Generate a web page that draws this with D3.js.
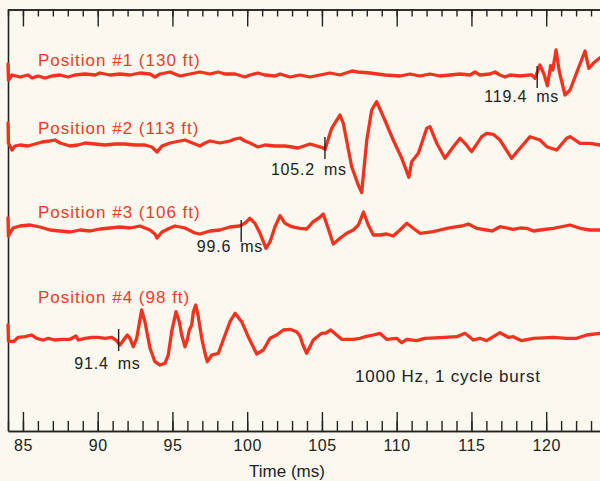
<!DOCTYPE html>
<html>
<head>
<meta charset="utf-8">
<script src="https://cdn.jsdelivr.net/npm/d3@7/dist/d3.min.js"></script>
<style>
  html, body { margin: 0; padding: 0; background: #fbf8ef; }
  svg { display: block; }
  text { font-family: "Liberation Sans", Arial, Helvetica, sans-serif; }
</style>
</head>
<body>
<svg id="chart" width="600" height="481"></svg>
<script>
// ---- data ----------------------------------------------------------
const timeDomain = [84, 123.6];          // ms
const majorTicks = [85, 90, 95, 100, 105, 110, 115, 120];
const minorTicks = d3.range(84, 124, 1);
const positionNames = ["Position #1 (130 ft)", "Position #2 (113 ft)", "Position #3 (106 ft)", "Position #4 (98 ft)"];
const arrivalTimes = [119.4, 105.2, 99.6, 91.4];   // ms
const burstNote = "1000 Hz, 1 cycle burst";
const axisTitle = "Time (ms)";

// received waveforms: [time ms, relative amplitude]
const trace1 = [
  [84.0,1.1],[84.03,-0.5],[84.27,0],[84.8,-0.2],[85.34,0],[85.61,-0.3],[86.01,-0.1],[86.48,-0.3],[86.94,-0.1],
  [87.48,0],[88.01,-0.2],[88.48,0],[89.15,0.1],[89.82,0],[90.15,0.2],[90.82,0],[91.49,0.1],[92.16,0],[92.83,0.2],
  [93.5,0.1],[93.83,-0.2],[94.17,0.1],[94.84,0.3],[95.17,0.1],[95.51,-0.1],[96.17,0.1],[96.84,0.3],[97.51,0.1],
  [98.05,0.3],[98.52,0.1],[99.19,0.1],[99.85,-0.2],[100.19,0],[100.72,0.2],[101.19,0],[101.86,-0.1],[102.2,0.1],
  [102.86,-0.2],[103.53,0],[104.2,-0.2],[104.87,0],[105.54,0.2],[106.21,0],[107.01,0.4],[107.41,0.3],[108.22,0.2],
  [109.22,0],[110.22,-0.1],[110.89,0.1],[111.56,-0.1],[112.23,0.1],[112.9,-0.1],[113.57,0],[114.24,0.1],[114.91,0],
  [115.24,0.3],[115.57,0],[116.24,0.1],[116.58,0.3],[116.91,0],[117.25,-0.2],[117.58,0],[118.25,-0.1],[118.92,0],
  [119.05,0],[119.25,-0.33],[119.58,1.0],[119.86,0.07],[120.08,-1.07],[120.3,0.93],[120.44,0.5],[120.66,2.5],
  [120.88,0.33],[121.26,-2.0],[121.6,-1.5],[122.08,0.4],[122.6,2.4],[122.85,0.67],[123.15,1.17],[123.6,1.73]
];
const trace2 = [
  [84.0,2.3],[84.03,0.3],[84.27,-0.4],[84.47,0],[84.8,0.1],[85.34,0],[85.81,0.2],[86.27,0.4],[86.81,0.5],[87.14,0.6],
  [87.48,0.3],[88.15,0],[88.68,0.1],[89.15,0.3],[89.82,0.2],[90.49,0.1],[91.16,0.2],[91.83,0.2],[92.5,0.1],[93.16,0.1],
  [93.63,-0.1],[93.97,-0.6],[94.3,0],[94.84,0.3],[95.17,0.4],[95.84,0.6],[96.51,0.2],[96.84,0],[97.18,0.3],[97.51,0.5],
  [98.18,0.3],[98.85,0.5],[99.19,0.7],[99.52,0.8],[99.85,0.5],[100.19,0.3],[100.72,-0.1],[101.19,0.1],[101.86,0],
  [102.53,0],[103.0,-0.1],[103.4,-0.2],[104.2,0.2],[104.98,-0.13],[105.21,-0.33],[105.65,1.77],[106.21,3.1],
  [106.43,2.27],[106.99,-2.07],[107.43,-3.9],[107.66,-4.65],[108.0,0.6],[108.33,3.6],[108.66,4.43],[109.11,2.93],
  [109.77,0.6],[110.34,-1.23],[110.82,-3.13],[111.0,-1.57],[111.45,-0.73],[112.01,1.77],[112.23,1.93],[112.68,0.27],
  [113.23,-1.23],[113.79,-0.07],[114.24,0.77],[114.57,0.27],[115.02,-0.57],[115.69,0.93],[116.02,1.27],[116.46,1.17],
  [116.91,0.6],[117.69,-1.23],[118.25,-0.23],[118.92,0.93],[119.59,0.6],[120.04,-0.07],[120.7,-0.4],[121.37,0.77],
  [121.6,0.93],[122.27,0.27],[122.94,0.27],[123.6,0.1]
];
const trace3 = [
  [84.0,1.1],[84.03,-0.7],[84.33,0.1],[84.8,0.3],[85.47,0.4],[86.14,0.2],[86.81,-0.1],[87.48,-0.2],[88.15,-0.3],
  [88.82,-0.1],[89.49,-0.2],[90.15,0],[90.82,0.1],[91.49,0.2],[92.16,0.1],[92.83,0.3],[93.5,-0.1],[93.83,-0.5],
  [93.97,-0.9],[94.3,-0.3],[94.84,0.1],[95.17,0.3],[95.84,0.1],[96.51,-0.4],[96.84,-0.5],[97.51,-0.2],[98.18,-0.1],
  [98.85,0.2],[99.47,0.3],[99.85,0.57],[100.19,1.07],[100.52,0.57],[100.86,-0.43],[101.26,-1.93],[101.53,-1.27],
  [101.86,0.23],[102.2,1.33],[102.53,0.57],[102.98,0.23],[103.53,0.07],[103.98,0],[104.42,0.73],[104.8,1.1],
  [105.09,1.5],[105.41,0.1],[105.76,-1.5],[106.21,-0.93],[106.66,-0.43],[107.1,-0.1],[107.44,0.4],[107.78,1.7],
  [108.1,0.4],[108.44,-0.6],[108.88,-0.6],[109.33,-0.5],[109.77,-0.7],[110.22,-0.1],[110.67,0.57],[111.11,0.07],
  [111.56,-0.43],[112.45,-0.27],[112.9,-0.1],[113.35,0.07],[114.02,0.23],[114.37,0.3],[114.79,0.5],[115.35,0.07],
  [116.02,-0.1],[116.38,-0.2],[116.91,0.23],[117.8,-0.03],[118.25,0.1],[118.7,0.07],[119.14,-0.2],[119.59,-0.1],
  [120.48,0.07],[120.92,0.2],[121.6,0.4],[122.27,0.07],[122.94,-0.1],[123.6,-0.1]
];
const trace4 = [
  [84.0,1.3],[84.03,-0.3],[84.35,-0.37],[84.69,0.07],[85.14,0.13],[85.59,0.3],[85.92,-0.03],[86.36,-0.2],[86.7,-0.03],
  [87.14,-0.2],[87.59,-0.13],[88.15,-0.13],[88.55,0.2],[88.7,-0.2],[89.15,-0.03],[89.6,0.07],[90.04,0.07],[90.49,-0.03],
  [90.94,0.07],[91.27,-0.27],[91.49,-0.7],[91.82,-0.03],[91.98,0.3],[92.16,-0.03],[92.38,-0.87],[92.61,-0.03],
  [92.94,2.8],[93.16,1.63],[93.5,-1.03],[93.83,-2.37],[94.17,-2.7],[94.5,-2.53],[94.72,-1.7],[94.95,0.63],[95.24,2.63],
  [95.46,1.63],[95.62,0.3],[95.84,-0.87],[95.99,-0.2],[96.13,0.8],[96.29,1.3],[96.4,2.63],[96.56,3.3],[96.73,2.13],
  [96.96,-0.03],[97.18,-1.53],[97.33,-2.37],[97.63,-1.7],[98.07,-1.53],[98.52,0.3],[98.85,1.63],[99.19,2.47],
  [99.63,1.63],[100.07,0.13],[100.64,-1.6],[101.08,-1.2],[101.53,-0.03],[101.97,0.3],[102.42,0.8],[102.86,0.87],
  [103.31,0.63],[103.53,0.2],[103.73,-0.7],[103.98,-1.53],[104.42,-0.2],[104.98,0.47],[105.27,0.5],[105.59,0.8],
  [106.32,-0.13],[107.1,-0.13],[107.55,-0.03],[107.88,0.13],[108.44,0.3],[108.88,0.47],[109.33,-0.13],[110.0,-0.03],
  [110.34,-0.47],[110.67,-0.13],[111.34,-0.27],[111.89,-0.03],[112.9,0.03],[114.02,0.13],[114.57,0.47],[115.13,-0.2],
  [115.57,-0.03],[116.02,-0.27],[116.91,0.53],[117.47,0.07],[117.8,0.13],[118.36,-0.27],[119.14,-0.03],[120.48,0.07],
  [121.37,-0.03],[122.04,-0.03],[122.71,0.3],[123.6,0.47]
];
const traces = [trace1, trace2, trace3, trace4];

// ---- layout --------------------------------------------------------
const W = 600, H = 481;
const plotTop = 9.5, plotBottom = 431;
const traceBaselines = [75, 146, 229, 338];
const nameBaselines = [66, 134, 218, 303];
const arrivalLabelDy = [27, 29, 23, 31];
const red = "#f0321f";
const ink = "#222";

const svg = d3.select("#chart");
svg.append("rect").attr("width", W).attr("height", H).attr("fill", "#fbf8ef");

const x = d3.scaleLinear().domain(timeDomain).range([8, 600]);
const amp = d3.scaleLinear().domain([-1, 1]).range([10, -10]);

// frame: top and bottom time axes, left edge
const axisG = svg.append("g").attr("class", "axes");

function drawAxis(axisFn, y, ticks, size, labels) {
  const g = axisG.append("g")
    .attr("transform", `translate(0,${y})`)
    .call(axisFn(x).tickValues(ticks).tickSizeInner(-size).tickSizeOuter(0)
      .tickPadding(size + 7)
      .tickFormat(labels ? d3.format("d") : ""));
  g.select(".domain").attr("stroke", ink).attr("stroke-width", 1.6);
  g.selectAll(".tick line").attr("stroke", ink).attr("stroke-width", 1.4);
  return g;
}
drawAxis(d3.axisTop, plotTop, minorTicks, 7, false);
drawAxis(d3.axisTop, plotTop, majorTicks, 17, false);
drawAxis(d3.axisBottom, plotBottom, minorTicks, 10, false);
const bottomMajor = drawAxis(d3.axisBottom, plotBottom, majorTicks, 19, true);
bottomMajor.selectAll(".tick text")
  .attr("y", 0).attr("dy", 0)
  .attr("transform", "translate(0,20)")
  .attr("fill", ink)
  .style("font-size", "16px")
  .style("letter-spacing", "0.6px")
  .style("font-family", "'Liberation Sans', Arial, sans-serif");

axisG.append("line")
  .attr("x1", 8.5).attr("x2", 8.5).attr("y1", plotTop).attr("y2", plotBottom)
  .attr("stroke", ink).attr("stroke-width", 1.6);

svg.append("text")
  .attr("x", 287).attr("y", 477)
  .attr("text-anchor", "middle")
  .attr("fill", ink)
  .style("font-size", "17px")
  .text(axisTitle);

// waveforms
const line = d3.line().x(d => x(d[0])).y(d => amp(d[1]));
const traceG = svg.append("g").selectAll("g").data(traces).join("g")
  .attr("transform", (d, i) => `translate(0,${traceBaselines[i]})`);
traceG.append("path")
  .attr("d", line)
  .attr("fill", "none")
  .attr("stroke", red)
  .attr("stroke-width", 3.3)
  .attr("stroke-linejoin", "round")
  .attr("stroke-linecap", "round");

// position names
svg.append("g").selectAll("text").data(positionNames).join("text")
  .attr("x", 38).attr("y", (d, i) => nameBaselines[i])
  .attr("fill", "#ee3b27")
  .style("font-size", "17px")
  .style("letter-spacing", "1px")
  .text(d => d);

// arrival-time markers
const fmt = d3.format(".1f");
const markG = svg.append("g").selectAll("g").data(arrivalTimes).join("g")
  .attr("transform", (d, i) => `translate(${x(d)},${traceBaselines[i]})`);
markG.append("line")
  .attr("y1", -9).attr("y2", 13)
  .attr("stroke", ink).attr("stroke-width", 1.4);
markG.append("text")
  .attr("x", -10).attr("y", (d, i) => arrivalLabelDy[i])
  .attr("text-anchor", "end")
  .attr("fill", ink)
  .style("font-size", "16px")
  .style("letter-spacing", "0.8px")
  .text(d => fmt(d));
markG.append("text")
  .attr("x", -1).attr("y", (d, i) => arrivalLabelDy[i])
  .attr("fill", ink)
  .style("font-size", "16px")
  .style("letter-spacing", "0.8px")
  .text("ms");

svg.append("text")
  .attr("x", 355).attr("y", 382)
  .attr("fill", ink)
  .style("font-size", "17px")
  .style("letter-spacing", "0.8px")
  .text(burstNote);
</script>
</body>
</html>
